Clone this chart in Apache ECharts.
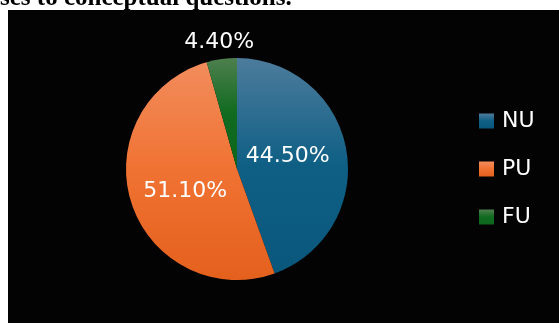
<!DOCTYPE html>
<html>
<head>
<meta charset="utf-8">
<script src="https://cdn.jsdelivr.net/npm/echarts@6/dist/echarts.min.js"></script>
<style>
  html, body { margin: 0; padding: 0; background: #ffffff; }
  #chart { width: 559px; height: 323px; }
</style>
</head>
<body>
<div id="chart"></div>
<script>
// Share of responses to conceptual questions
const categories = ['NU', 'PU', 'FU'];
const shares = [44.5, 51.1, 4.4];
const pctLabels = ['44.50%', '51.10%', '4.40%'];

// top / middle / bottom shades of each slice
const topColors = ['#4d7c9c', '#f28c5c', '#4e7f4e'];
const midColors = ['#0f5f85', '#f07232', '#106b20'];
const bottomColors = ['#0a577c', '#e4601d', '#0d661c'];

// nudges for the percentage labels
const labelOffsets = [[-7, -3], [4, 4], [33, -13]];

function shade(i) {
  return new echarts.graphic.LinearGradient(0, 0, 0, 1, [
    { offset: 0, color: topColors[i] },
    { offset: 0.5, color: midColors[i] },
    { offset: 1, color: bottomColors[i] }
  ]);
}

const chart = echarts.init(document.getElementById('chart'), null, { renderer: 'canvas' });

chart.setOption({
  backgroundColor: '#ffffff',
  animation: false,
  graphic: [
    {
      type: 'rect',
      shape: { x: 8, y: 10, width: 551, height: 313 },
      style: { fill: '#030303' },
      z: -10
    },
    {
      type: 'text',
      x: 0,
      y: -1.5,
      style: {
        text: 'ses to conceptual questions.',
        font: 'bold 25px "Liberation Serif", serif',
        fill: '#000000',
        textVerticalAlign: 'middle'
      }
    }
  ],
  legend: {
    orient: 'vertical',
    left: 479,
    top: 110,
    padding: 0,
    icon: 'rect',
    itemWidth: 15,
    itemHeight: 15,
    itemGap: 26,
    textStyle: { color: '#ffffff', fontSize: 22, fontFamily: 'DejaVu Sans', padding: [0, 0, 0, 3] },
    data: categories
  },
  series: [{
    type: 'pie',
    center: [237, 169],
    radius: 111,
    startAngle: 90,
    clockwise: true,
    avoidLabelOverlap: false,
    itemStyle: { borderWidth: 0 },
    label: {
      position: 'inside',
      color: '#ffffff',
      fontSize: 22,
      fontFamily: 'DejaVu Sans',
      formatter: p => pctLabels[p.dataIndex]
    },
    labelLine: { show: false },
    data: categories.map((name, i) => {
      const item = {
        name: name,
        value: shares[i],
        itemStyle: { color: shade(i) },
        label: { offset: labelOffsets[i] }
      };
      if (name === 'FU') {
        item.label.position = 'outside';
        item.label.distanceToLabelLine = 0;
        item.labelLine = { show: false, length: 4, length2: 0 };
      }
      return item;
    })
  }]
});
</script>
</body>
</html>
